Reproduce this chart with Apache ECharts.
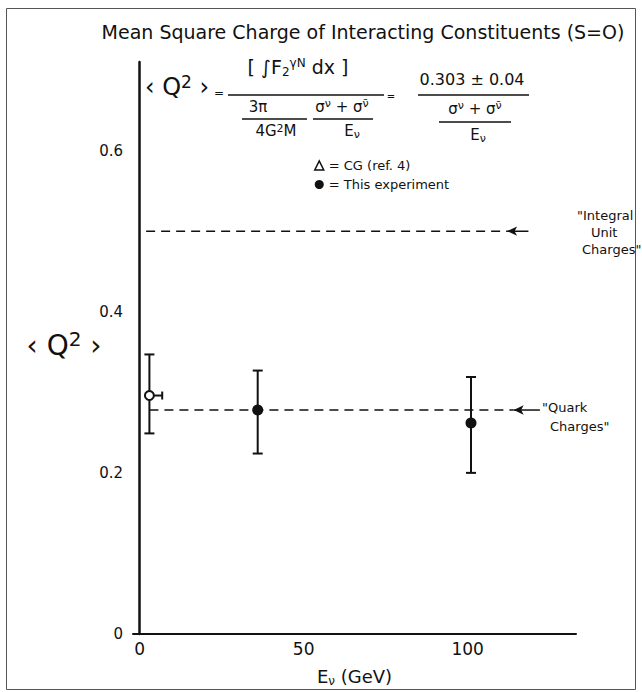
<!DOCTYPE html>
<html>
<head>
<meta charset="utf-8">
<script src="https://cdn.jsdelivr.net/npm/echarts@6/dist/echarts.min.js"></script>
<style>html,body{margin:0;padding:0;background:#fff}#c{width:642px;height:692px}</style>
</head>
<body>
<div id="c"></div>
<script>
// ---- data ----
const xTicks = [0, 50, 100];
const yTicks = [0, 0.2, 0.4, 0.6];
// CG (ref. 4) point
const cgX = [3];
const cgY = [0.296];
const cgYLow = [0.249];
const cgYHigh = [0.347];
const cgXLow = [1.5];
const cgXHigh = [6.9];
// This experiment
const expX = [36, 101];
const expY = [0.278, 0.262];
const expLow = [0.224, 0.200];
const expHigh = [0.327, 0.319];
// reference levels
const integralY = 0.5;
const quarkY = 0.278;
const integralLineX = [2, 112];
const integralArrowX = [118.5, 112];
const quarkLineX = [3, 114];
const quarkArrowX = [122, 114];

const FONT = 'DejaVu Sans';
const INK = '#111';

const chart = echarts.init(document.getElementById('c'), null, {renderer: 'svg'});

function vErr(params, api) {
  const top = api.coord([api.value(0), api.value(2)]);
  const bot = api.coord([api.value(0), api.value(1)]);
  const w = 5;
  const st = {stroke: INK, lineWidth: 2};
  return {type: 'group', children: [
    {type: 'line', shape: {x1: top[0], y1: top[1], x2: bot[0], y2: bot[1]}, style: st},
    {type: 'line', shape: {x1: top[0] - w, y1: top[1], x2: top[0] + w, y2: top[1]}, style: st},
    {type: 'line', shape: {x1: bot[0] - w, y1: bot[1], x2: bot[0] + w, y2: bot[1]}, style: st}
  ]};
}
function hErr(params, api) {
  const l = api.coord([api.value(1), api.value(0)]);
  const r = api.coord([api.value(2), api.value(0)]);
  const st = {stroke: INK, lineWidth: 2};
  return {type: 'group', children: [
    {type: 'line', shape: {x1: l[0], y1: l[1], x2: r[0], y2: r[1]}, style: st},
    {type: 'line', shape: {x1: r[0], y1: r[1] - 4, x2: r[0], y2: r[1] + 4}, style: st}
  ]};
}

function nS(fs) { return {fontSize: fs, fontFamily: FONT, color: INK}; }
function supS(fs, pad) { return {fontSize: fs, padding: [0, 0, pad, 0], fontFamily: FONT, color: INK}; }
function subS(fs, pad) { return {fontSize: fs, padding: [pad, 0, 0, 0], fontFamily: FONT, color: INK}; }

function txt(x, y, text, size, extra) {
  return {
    type: 'text', x: x, y: y,
    style: Object.assign({text: text, fontFamily: FONT, fontSize: size, fill: INK,
      align: 'center', verticalAlign: 'middle'}, extra || {})
  };
}
function bar(x1, x2, y, w) {
  return {type: 'line', shape: {x1: x1, y1: y, x2: x2, y2: y}, style: {stroke: INK, lineWidth: w || 1.5}};
}
const sigmaRich = {rich: {n: nS(15), t: supS(11, 7)}};
const eRich = {rich: {n: nS(15), b: subS(11, 6)}};

const option = {
  backgroundColor: '#fff',
  animation: false,
  title: {
    text: 'Mean Square Charge of Interacting Constituents (S=O)',
    left: 358, top: 17, textAlign: 'center',
    textStyle: {fontFamily: FONT, fontSize: 19, fontWeight: 'normal', color: INK}
  },
  grid: {left: 133, right: 66, top: 62, bottom: 55},
  legend: {
    orient: 'vertical', left: 309, top: 154, itemGap: 6, itemWidth: 9, itemHeight: 9,
    textStyle: {fontFamily: FONT, fontSize: 13, color: INK},
    data: [
      {name: '= CG (ref. 4)', icon: 'path://M0,10 L5,0 L10,10 Z',
       itemStyle: {color: '#fff', borderColor: INK, borderWidth: 1.5}},
      {name: '= This experiment', icon: 'circle', itemStyle: {color: INK}}
    ]
  },
  xAxis: {
    type: 'value', min: -2, max: 133,
    axisLine: {lineStyle: {color: INK, width: 2}},
    axisTick: {show: false},
    splitLine: {show: false},
    axisLabel: {customValues: xTicks, fontFamily: FONT, fontSize: 17, color: INK, margin: 6},
    name: '{n|E}{s|ν}{n| (GeV)}', nameLocation: 'middle', nameGap: 32,
    nameTextStyle: {fontFamily: FONT, fontSize: 18, color: INK,
      rich: {n: nS(18), s: {fontSize: 12, padding: [9, 0, 0, 0], fontFamily: FONT, color: INK}}}
  },
  yAxis: {
    type: 'value', min: 0, max: 0.71,
    axisLine: {lineStyle: {color: INK, width: 2.5}},
    axisTick: {show: false},
    splitLine: {show: false},
    axisLabel: {customValues: yTicks, fontFamily: FONT, fontSize: 15, color: INK, margin: 10,
      formatter: v => (v === 0 ? '0' : v.toFixed(1))}
  },
  series: [
    {type: 'line', data: integralLineX.map(x => [x, integralY]), symbol: 'none',
     lineStyle: {color: INK, width: 1.5, type: [9, 6]}, z: 1},
    {type: 'line', data: [[integralArrowX[0], integralY], {value: [integralArrowX[1], integralY], symbol: 'arrow', symbolSize: [7, 10], symbolRotate: 90}],
     symbol: 'none', showSymbol: true, itemStyle: {color: INK, opacity: 1}, lineStyle: {color: INK, width: 1.5}, z: 1},
    {type: 'line', data: quarkLineX.map(x => [x, quarkY]), symbol: 'none',
     lineStyle: {color: INK, width: 1.5, type: [9, 6]}, z: 1},
    {type: 'line', data: [[quarkArrowX[0], quarkY], {value: [quarkArrowX[1], quarkY], symbol: 'arrow', symbolSize: [7, 10], symbolRotate: 90}],
     symbol: 'none', showSymbol: true, itemStyle: {color: INK, opacity: 1}, lineStyle: {color: INK, width: 1.5}, z: 1},
    {type: 'custom', renderItem: vErr, data: cgX.map((x, i) => [x, cgYLow[i], cgYHigh[i]]), z: 2},
    {type: 'custom', renderItem: hErr, data: cgY.map((y, i) => [y, cgXLow[i], cgXHigh[i]]), z: 2},
    {type: 'custom', renderItem: vErr, data: expX.map((x, i) => [x, expLow[i], expHigh[i]]), z: 2},
    {name: '= CG (ref. 4)', type: 'scatter', data: cgX.map((x, i) => [x, cgY[i]]),
     symbol: 'circle', symbolSize: 9, itemStyle: {color: '#fff', borderColor: INK, borderWidth: 2, opacity: 1}, z: 5},
    {name: '= This experiment', type: 'scatter', data: expX.map((x, i) => [x, expY[i]]),
     symbol: 'circle', symbolSize: 11, itemStyle: {color: INK, opacity: 1}, z: 5}
  ],
  graphic: [
    {type: 'rect', shape: {x: 6.5, y: 8.5, width: 629, height: 681}, style: {fill: 'none', stroke: '#555', lineWidth: 1}, silent: true},
    // y axis title
    txt(64, 345, '{n|‹ Q}{p|2}{n| ›}', 28, {rich: {n: nS(28), p: supS(20, 12)}}),
    // formula
    txt(177, 87, '{n|‹ Q}{p|2}{n| ›}', 24, {rich: {n: nS(24), p: supS(17, 10)}}),
    txt(219, 93, '=', 12),
    txt(298, 67, '{n|[ ∫F}{b|2}{t|γN}{n| dx ]}', 19, {rich: {n: nS(19), b: subS(12, 9), t: supS(12, 9)}}),
    bar(228, 384, 95),
    txt(258, 107, '3π', 15),
    bar(242, 307, 119, 1.3),
    txt(276, 131, '{n|4G}{t|2}{n|M}', 15, {rich: {n: nS(15), t: supS(11, 6)}}),
    txt(342, 107, '{n|σ}{t|ν}{n| + σ}{t|ν̄}', 15, sigmaRich),
    bar(313, 373, 119, 1.3),
    txt(352, 131, '{n|E}{b|ν}', 15, eRich),
    txt(391, 96, '=', 10),
    txt(472, 79, '0.303 ± 0.04', 16),
    bar(418, 529, 95),
    txt(475, 109, '{n|σ}{t|ν}{n| + σ}{t|ν̄}', 15, sigmaRich),
    bar(439, 511, 122, 1.3),
    txt(478, 135, '{n|E}{b|ν}', 15, eRich),
    // reference level labels
    txt(577, 215, '"Integral', 13, {align: 'left'}),
    txt(591, 232, 'Unit', 13, {align: 'left'}),
    txt(582, 249, 'Charges"', 13, {align: 'left'}),
    txt(542, 407, '"Quark', 13, {align: 'left'}),
    txt(550, 426, 'Charges"', 13, {align: 'left'})
  ]
};
chart.setOption(option);
</script>
</body>
</html>
